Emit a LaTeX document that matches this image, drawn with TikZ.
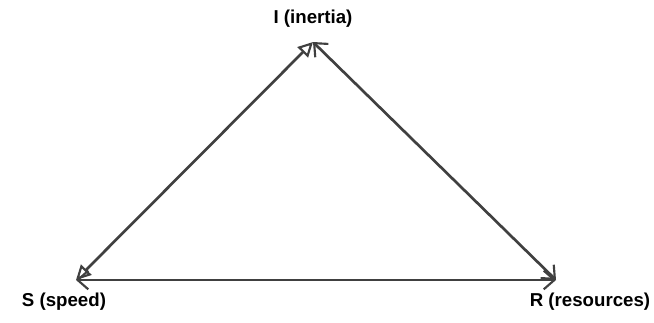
\documentclass[tikz,border=0pt]{standalone}
\usepackage{fontspec}
\setmainfont{Liberation Sans}
\usetikzlibrary{arrows.meta}
\definecolor{ln}{HTML}{404040}
\tikzset{
  lbl/.style={font=\bfseries\fontsize{14}{16}\selectfont, text=black, inner sep=0pt},
  edge/.style={draw=ln, line width=2pt},
  tri/.style={edge, {Triangle[open, length=11pt, width=11pt, line width=1.6pt]}-{Triangle[open, length=11pt, width=11pt, line width=1.6pt]}},
  barb/.style={edge, {Straight Barb[length=8pt, width=14pt, line width=1.6pt]}-{Straight Barb[length=8pt, width=14pt, line width=1.6pt]}}
}
\begin{document}
\begin{tikzpicture}[x=0.75pt, y=-0.75pt]
\useasboundingbox (0,0) rectangle (654,322);
\node[lbl] (il) at (313,19) {I (inertia)};
\node[lbl] (sl) at (64,302) {S (speed)};
\node[lbl] (rl) at (590,302) {R (resources)};
\coordinate (I) at (313,42);
\coordinate (S) at (76,280);
\coordinate (R) at (556,280);
\draw[tri] (S) -- (I);
\draw[barb] (I) -- (R);
\draw[barb] (S) -- (R);
\end{tikzpicture}
\end{document}
